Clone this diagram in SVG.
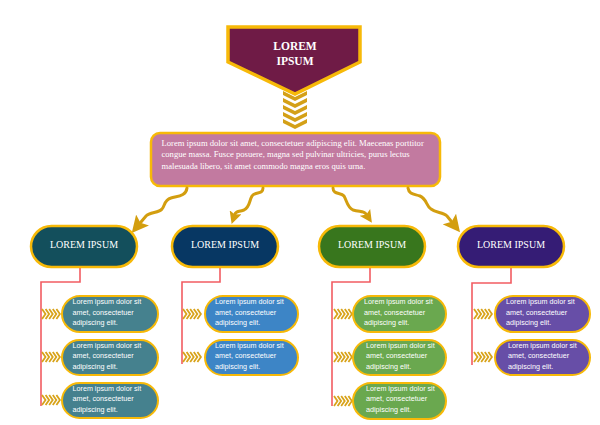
<svg xmlns="http://www.w3.org/2000/svg" xmlns:xlink="http://www.w3.org/1999/xlink" width="600" height="425" viewBox="0 0 600 425">
<style>
.top-t{font-family:"Liberation Serif",serif;font-weight:bold;font-size:11.5px;fill:#fff;text-anchor:middle}
.mid-t{font-family:"Liberation Serif",serif;font-size:8.6px;fill:#fff}
.l2{stroke:#f7b908;stroke-width:2.5}
.l2-t{font-family:"Liberation Serif",serif;font-size:10px;fill:#fff;text-anchor:middle}
.sub{stroke:#f7b908;stroke-width:2}
.sub-t{font-family:"Liberation Sans",sans-serif;font-size:7.2px;fill:#fff}
.wave{fill:none;stroke:#d39e0f;stroke-width:3;stroke-linecap:round}
.big{marker-end:url(#ah)}
.small{marker-end:url(#ahs)}
.red{fill:none;stroke:#f25c62;stroke-width:1.6}
.schev{fill:none;stroke:#d8a31a;stroke-width:1.8}
</style>
<defs>
<marker id="ah" viewBox="0 0 10 10" refX="1.5" refY="5" markerWidth="17" markerHeight="17" markerUnits="userSpaceOnUse" orient="auto">
<path d="M0,0 L10,5 L0,10 L2,5 z" fill="#d39e0f"/>
</marker>
<marker id="ahs" viewBox="0 0 10 10" refX="1.5" refY="5" markerWidth="12.5" markerHeight="12.5" markerUnits="userSpaceOnUse" orient="auto">
<path d="M0,0 L10,5 L0,10 L2,5 z" fill="#d39e0f"/>
</marker>
<g id="sch">
<polyline points="0,-5 3.5,0 0,5"/>
<polyline points="3.6,-5 7.1,0 3.6,5"/>
<polyline points="7.2,-5 10.7,0 7.2,5"/>
<polyline points="10.8,-5 14.3,0 10.8,5"/>
<polyline points="14.4,-5 17.9,0 14.4,5"/>
</g>
</defs>
<rect width="600" height="425" fill="#fff"/>

<g id="top-chevrons" fill="#d4a017">
<polygon points="283,91 295,97 307,91 307,95 295,101 283,95"/>
<polygon points="283,98 295,104 307,98 307,102 295,108 283,102"/>
<polygon points="283,105 295,111 307,105 307,109 295,115 283,109"/>
<polygon points="283,112 295,118 307,112 307,116 295,122 283,116"/>
<polygon points="283,119 295,125 307,119 307,123 295,129 283,123"/>
</g>

<g id="title">
<path d="M228,27 H360 V62 L295,94 L228,62 Z" fill="#6f1b46" stroke="#f7b908" stroke-width="3.5" stroke-linejoin="miter"/>
<text class="top-t" x="295" y="50">LOREM</text>
<text class="top-t" x="295" y="65">IPSUM</text>
</g>

<g id="summary">
<rect x="151" y="133" width="289" height="53" rx="9" fill="#c27aa0" stroke="#f7b908" stroke-width="2.5"/>
<text class="mid-t" x="161.5" y="145.5">Lorem ipsum dolor sit amet, consectetuer adipiscing elit. Maecenas porttitor</text>
<text class="mid-t" x="161.5" y="157">congue massa. Fusce posuere, magna sed pulvinar ultricies, purus lectus</text>
<text class="mid-t" x="161.5" y="168.5">malesuada libero, sit amet commodo magna eros quis urna.</text>
</g>

<g id="connectors">
<path class="wave big" d="M187,188 C186,196 178,196 171,198 C164,200 165,206 162,209 C159,213 150,212 146,216 L141,222"/>
<path class="wave small" d="M263,188 C263,195 255,191 252,196 C249,201 250,207 244,210 C238,212 236,211 235,214"/>
<path class="wave small" d="M333,188 C333,195 341,192 344,196 C347,201 347,207 353,210 C360,212 364,211 366,214"/>
<path class="wave big" d="M408,188 C409,195 415,194 420,196 C427,199 426,206 431,209 C436,213 443,212 447,216 L451,221"/>
<path class="red" d="M80,267 V282 H41 V406"/>
<path class="red" d="M220,267 V282 H182 V364"/>
<path class="red" d="M370,267 V282 H332 V406"/>
<path class="red" d="M511,267 V283 H472 V365"/>
<g class="schev">
<use xlink:href="#sch" x="42" y="314"/>
<use xlink:href="#sch" x="42" y="357"/>
<use xlink:href="#sch" x="42" y="400"/>
<use xlink:href="#sch" x="183" y="314"/>
<use xlink:href="#sch" x="183" y="357"/>
<use xlink:href="#sch" x="334" y="314"/>
<use xlink:href="#sch" x="334" y="357"/>
<use xlink:href="#sch" x="334" y="401"/>
<use xlink:href="#sch" x="474" y="314"/>
<use xlink:href="#sch" x="474" y="357"/>
</g>
</g>

<g id="node-1">
<rect class="l2" x="31" y="226" width="106" height="41" rx="20.5" fill="#134f5c"/>
<text class="l2-t" x="84" y="248">LOREM IPSUM</text>
</g>
<g id="node-2">
<rect class="l2" x="172" y="226" width="106" height="41" rx="20.5" fill="#073763"/>
<text class="l2-t" x="225" y="248">LOREM IPSUM</text>
</g>
<g id="node-3">
<rect class="l2" x="319" y="226" width="106" height="41" rx="20.5" fill="#38761d"/>
<text class="l2-t" x="372" y="248">LOREM IPSUM</text>
</g>
<g id="node-4">
<rect class="l2" x="458" y="226" width="106" height="41" rx="20.5" fill="#351c75"/>
<text class="l2-t" x="511" y="248">LOREM IPSUM</text>
</g>

<g id="item-1-1">
<rect class="sub" x="62" y="296" width="96" height="36" rx="18" fill="#45818e"/>
<text class="sub-t" x="72.5" y="304"><tspan x="72.5">Lorem ipsum dolor sit</tspan><tspan x="72.5" dy="10.7">amet, consectetuer</tspan><tspan x="72.5" dy="10.7">adipiscing elit.</tspan></text>
</g>
<g id="item-1-2">
<rect class="sub" x="62" y="340" width="96" height="35" rx="17.5" fill="#45818e"/>
<text class="sub-t" x="72.5" y="347.5"><tspan x="72.5">Lorem ipsum dolor sit</tspan><tspan x="72.5" dy="10.7">amet, consectetuer</tspan><tspan x="72.5" dy="10.7">adipiscing elit.</tspan></text>
</g>
<g id="item-1-3">
<rect class="sub" x="62" y="383" width="96" height="35" rx="17.5" fill="#45818e"/>
<text class="sub-t" x="72.5" y="390.5"><tspan x="72.5">Lorem ipsum dolor sit</tspan><tspan x="72.5" dy="10.7">amet, consectetuer</tspan><tspan x="72.5" dy="10.7">adipiscing elit.</tspan></text>
</g>

<g id="item-2-1">
<rect class="sub" x="205" y="296" width="93" height="36" rx="18" fill="#3d85c6"/>
<text class="sub-t" x="215" y="304"><tspan x="215">Lorem ipsum dolor sit</tspan><tspan x="215" dy="10.7">amet, consectetuer</tspan><tspan x="215" dy="10.7">adipiscing elit.</tspan></text>
</g>
<g id="item-2-2">
<rect class="sub" x="205" y="340" width="93" height="35" rx="17.5" fill="#3d85c6"/>
<text class="sub-t" x="215" y="347.5"><tspan x="215">Lorem ipsum dolor sit</tspan><tspan x="215" dy="10.7">amet, consectetuer</tspan><tspan x="215" dy="10.7">adipiscing elit.</tspan></text>
</g>

<g id="item-3-1">
<rect class="sub" x="353" y="296" width="93" height="36" rx="18" fill="#6aa84f"/>
<text class="sub-t" x="364" y="304"><tspan x="364">Lorem ipsum dolor sit</tspan><tspan x="364" dy="10.7">amet, consectetuer</tspan><tspan x="364" dy="10.7">adipiscing elit.</tspan></text>
</g>
<g id="item-3-2">
<rect class="sub" x="353" y="340" width="93" height="35" rx="17.5" fill="#6aa84f"/>
<text class="sub-t" x="366" y="347.5"><tspan x="366">Lorem ipsum dolor sit</tspan><tspan x="366" dy="10.7">amet, consectetuer</tspan><tspan x="366" dy="10.7">adipiscing elit.</tspan></text>
</g>
<g id="item-3-3">
<rect class="sub" x="353" y="383" width="93" height="36" rx="18" fill="#6aa84f"/>
<text class="sub-t" x="366" y="390.5"><tspan x="366">Lorem ipsum dolor sit</tspan><tspan x="366" dy="10.7">amet, consectetuer</tspan><tspan x="366" dy="10.7">adipiscing elit.</tspan></text>
</g>

<g id="item-4-1">
<rect class="sub" x="495" y="296" width="95" height="36" rx="18" fill="#674ea7"/>
<text class="sub-t" x="506" y="304"><tspan x="506">Lorem ipsum dolor sit</tspan><tspan x="506" dy="10.7">amet, consectetuer</tspan><tspan x="506" dy="10.7">adipiscing elit.</tspan></text>
</g>
<g id="item-4-2">
<rect class="sub" x="495" y="340" width="95" height="35" rx="17.5" fill="#674ea7"/>
<text class="sub-t" x="508" y="347.5"><tspan x="508">Lorem ipsum dolor sit</tspan><tspan x="508" dy="10.7">amet, consectetuer</tspan><tspan x="508" dy="10.7">adipiscing elit.</tspan></text>
</g>
</svg>
